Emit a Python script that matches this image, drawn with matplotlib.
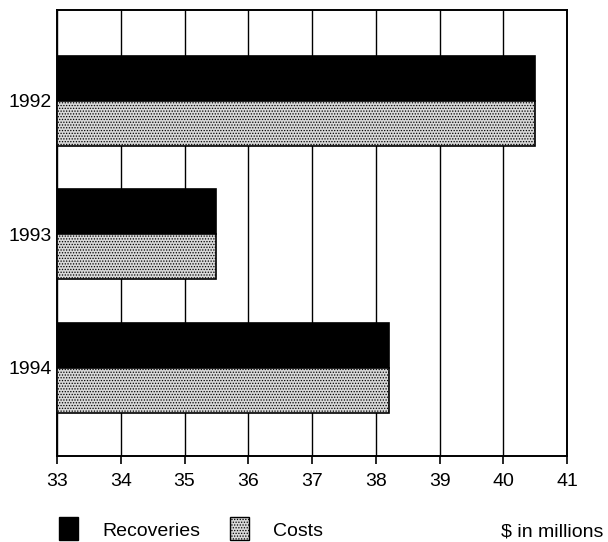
import matplotlib.pyplot as plt
from matplotlib.patches import Rectangle

plt.rcParams["font.family"] = ["Liberation Sans", "DejaVu Sans"]
plt.rcParams["hatch.color"] = "#555555"
plt.rcParams["hatch.linewidth"] = 0.6

years = ["1992", "1993", "1994"]
recoveries = [40.5, 35.5, 38.2]
costs = [40.5, 35.5, 38.2]
x_ticks = [33, 34, 35, 36, 37, 38, 39, 40, 41]

fig = plt.figure(figsize=(6.08, 5.42), dpi=100)
ax = fig.add_axes([0.0938, 0.1587, 0.839, 0.823])

pos = list(range(len(years)))
h = 0.337
base = 33
ax.barh([p - h / 2 for p in pos], [v - base for v in recoveries], height=h,
        left=base, color="black", edgecolor="black", linewidth=1.2, zorder=3)
ax.barh([p + h / 2 for p in pos], [v - base for v in costs], height=h,
        left=base, color="#d8d8d8", edgecolor="black", linewidth=1.2,
        hatch="......", zorder=3)

ax.set_xlim(33, 41)
ax.set_ylim(2.66, -0.68)
ax.set_xticks(x_ticks)
ax.set_xticklabels([str(t) for t in x_ticks], fontsize=14)
ax.set_yticks(pos)
ax.set_yticklabels(years, fontsize=14)
ax.tick_params(axis="x", length=6, width=1.2, pad=6)
ax.tick_params(axis="y", length=0, pad=4)
ax.grid(axis="x", color="black", linewidth=1.0, zorder=0)
for s in ax.spines.values():
    s.set_linewidth(1.4)

# legend row at the bottom
fig.add_artist(Rectangle((0.097, 0.0037), 0.031, 0.042, facecolor="black",
                         edgecolor="black", transform=fig.transFigure))
fig.text(0.168, 0.011, "Recoveries", fontsize=14, va="baseline")
fig.add_artist(Rectangle((0.378, 0.0037), 0.031, 0.042, facecolor="#d8d8d8",
                         edgecolor="black", hatch="......",
                         transform=fig.transFigure))
fig.text(0.449, 0.011, "Costs", fontsize=14, va="baseline")
fig.text(0.993, 0.011, "$ in millions", fontsize=14, ha="right", va="baseline")

fig.savefig("out.png", dpi=100)
